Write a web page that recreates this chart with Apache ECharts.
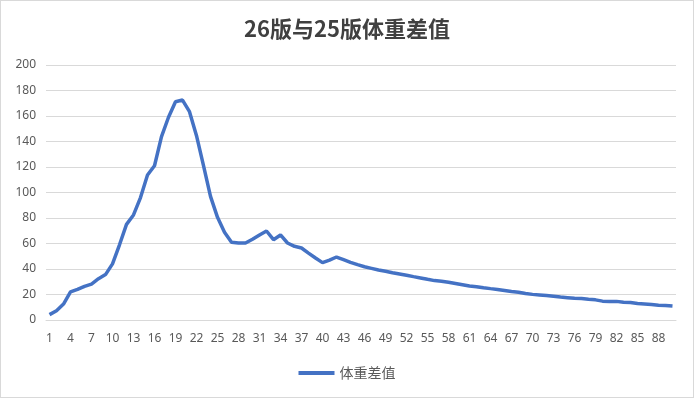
<!DOCTYPE html>
<html>
<head>
<meta charset="utf-8">
<script src="https://cdn.jsdelivr.net/npm/echarts@6/dist/echarts.min.js"></script>
<style>
html,body{margin:0;padding:0;background:#fff;}
#c{width:692px;height:396px;border:1px solid #d9d9d9;}
</style>
</head>
<body>
<div id="c"></div>
<script>
var titleText = '26版与25版体重差值';
var seriesName = '体重差值';
var categories = [];
for (var k = 1; k <= 90; k++) categories.push(String(k));
var values = [
  4.2, 7.3, 12.5, 22.0, 24.0, 26.4, 28.2, 32.4, 35.6, 44.0,
  59.0, 75.0, 82.4, 96.0, 113.7, 121.0, 143.8, 159.0, 171.2, 172.5,
  163.4, 144.6, 121.0, 97.0, 80.5, 68.8, 61.0, 60.4, 60.4, 63.3,
  66.7, 69.8, 63.0, 66.7, 60.4, 57.8, 56.5, 52.5, 48.6, 45.0,
  47.0, 49.4, 47.3, 45.2, 43.4, 41.8, 40.5, 39.2, 38.2, 37.1,
  36.1, 35.1, 34.0, 33.0, 31.9, 30.9, 30.4, 29.6, 28.6, 27.6,
  26.6, 26.1, 25.3, 24.6, 24.0, 23.2, 22.4, 21.8, 20.8, 20.1,
  19.7, 19.2, 18.6, 18.0, 17.5, 17.0, 16.8, 16.2, 15.8, 14.8,
  14.6, 14.6, 13.9, 13.7, 12.9, 12.6, 12.2, 11.6, 11.4, 11.0
];
var yMin = 0, yMax = 200, yStep = 20;

var chart = echarts.init(document.getElementById('c'));
chart.setOption({
  animation: false,
  backgroundColor: '#fff',
  title: {
    text: titleText,
    left: 'center',
    top: 12,
    textStyle: {fontSize: 22, fontWeight: 'bold', color: '#404040', fontFamily: 'Noto Sans CJK SC'}
  },
  legend: {
    bottom: 12,
    left: 'center',
    itemWidth: 36,
    itemHeight: 4,
    icon: 'rect',
    itemGap: 6,
    textStyle: {fontSize: 14, color: '#595959', fontFamily: 'Noto Sans CJK SC'},
    data: [seriesName]
  },
  grid: {left: 45, right: 17, top: 64, bottom: 77, containLabel: false},
  xAxis: {
    type: 'category',
    data: categories,
    boundaryGap: true,
    axisLine: {lineStyle: {color: '#d9d9d9'}},
    axisTick: {show: false},
    axisLabel: {interval: 2, color: '#595959', fontSize: 12, margin: 13, fontFamily: 'Noto Sans'}
  },
  yAxis: {
    type: 'value',
    min: yMin, max: yMax, interval: yStep,
    axisLine: {show: false},
    axisTick: {show: false},
    splitLine: {lineStyle: {color: '#d9d9d9'}},
    axisLabel: {color: '#595959', fontSize: 12, margin: 10, fontFamily: 'Noto Sans'}
  },
  series: [{
    name: seriesName,
    type: 'line',
    data: values,
    symbol: 'none',
    smooth: false,
    lineStyle: {color: '#4472C4', width: 3.5},
    itemStyle: {color: '#4472C4'}
  }]
});
</script>
</body>
</html>
